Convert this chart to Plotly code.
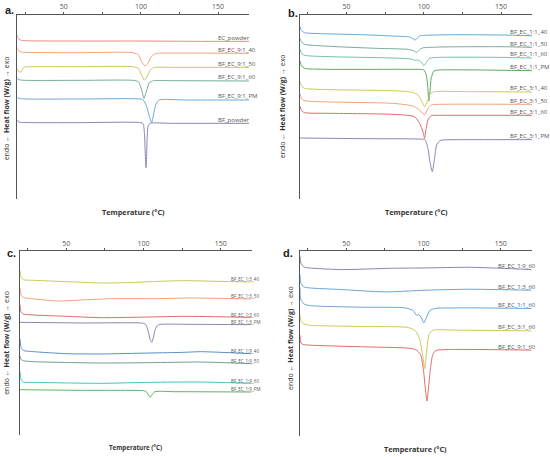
import plotly.graph_objects as go

# DSC thermograms, four panels (a-d). Temperature in degC, heat flow in arbitrary offset units (W/g)

# ---- panel a ----
a_names = ["EC_powder", "BF_EC_9:1_40", "BF_EC_9:1_50", "BF_EC_9:1_60", "BF_EC_9:1_PM", "BF_powder"]
a_temps = [
    [20, 20.5, 22, 25, 60, 100, 140, 170],
    [20, 20.5, 22, 25, 60, 95, 98.4, 100.5, 102.7, 104.8, 106.9, 110.2, 120, 170],
    [20, 21, 22.5, 24, 30, 60, 95, 98.4, 100.5, 102.3, 104.2, 106.3, 109, 120, 170],
    [20, 20.5, 22, 25, 60, 95, 98.4, 100.5, 102, 103.8, 105.5, 108.1, 120, 170],
    [20, 22, 60, 100, 101.6, 103.8, 105.5, 107, 108.1, 109.8, 111.9, 130, 170],
    [20, 20.5, 22, 60, 100, 101.5, 102.3, 102.9, 103.3, 103.7, 104, 104.6, 106, 120, 170],
]
a_flows = [
    [-1.05, -1.15, -1.20, -1.22, -1.23, -1.23, -1.24, -1.24],
    [-1.43, -1.50, -1.55, -1.57, -1.58, -1.58, -1.65, -1.85, -1.98, -1.88, -1.68, -1.60, -1.59, -1.60],
    [-2.05, -2.15, -2.16, -2.02, -2.00, -2.00, -2.00, -2.05, -2.25, -2.40, -2.28, -2.08, -2.02, -2.02, -2.02],
    [-2.32, -2.38, -2.40, -2.41, -2.41, -2.41, -2.45, -2.70, -2.95, -2.70, -2.48, -2.42, -2.42, -2.43],
    [-2.93, -2.96, -2.97, -2.97, -3.00, -3.20, -3.50, -3.68, -3.45, -3.12, -3.00, -3.00, -3.00],
    [-3.60, -3.65, -3.67, -3.68, -3.68, -3.72, -4.00, -4.70, -5.03, -4.70, -4.20, -3.80, -3.70, -3.70, -3.70],
]
a_colors = ["#ea8a84", "#f2a276", "#c9c95c", "#72ae96", "#6aa9dc", "#8a85b0"]

# ---- panel b ----
b_names = ["BF_EC_1:1_40", "BF_EC_1:1_50", "BF_EC_1:1_60", "BF_EC_1:1_PM",
           "BF_EC_3:1_40", "BF_EC_3:1_50", "BF_EC_3:1_60", "BF_EC_3:1_PM"]
b_temps = [
    [20, 21, 23, 35, 60, 80, 91, 94.5, 95.8, 97.3, 100, 120, 150, 170],
    [20, 21, 23, 40, 70, 90, 93.5, 95.4, 97, 99, 110, 150, 170],
    [20, 21, 23, 40, 80, 92, 94.5, 96.2, 98.4, 100.1, 101.6, 103.8, 110, 150, 170],
    [20, 21, 23, 40, 90, 100.1, 101.6, 102.5, 103.3, 104.1, 104.8, 106.6, 110, 170],
    [20, 21, 23, 40, 80, 93, 96.2, 98.4, 100.5, 102.7, 104.4, 107, 130, 170],
    [20, 21, 23, 40, 80, 93, 97.3, 100.5, 102.7, 104.8, 110, 170],
    [20, 21, 23, 40, 80, 94, 97.3, 99.5, 100.5, 101.6, 102.7, 104.8, 110, 170],
    [20, 60, 100, 101, 102.7, 104, 105.5, 107, 108.3, 110.2, 112.4, 130, 170],
]
b_flows = [
    [-0.80, -0.92, -0.98, -1.01, -1.04, -1.08, -1.11, -1.20, -1.14, -1.08, -1.06, -1.04, -1.05, -1.07],
    [-1.15, -1.26, -1.33, -1.39, -1.45, -1.48, -1.52, -1.57, -1.50, -1.44, -1.41, -1.40, -1.42],
    [-1.48, -1.60, -1.66, -1.70, -1.74, -1.77, -1.81, -1.80, -1.86, -1.97, -1.88, -1.75, -1.72, -1.72, -1.74],
    [-1.83, -1.98, -2.05, -2.08, -2.08, -2.10, -2.25, -2.55, -3.03, -2.70, -2.35, -2.13, -2.10, -2.12],
    [-2.45, -2.58, -2.65, -2.69, -2.72, -2.77, -2.85, -3.00, -3.20, -3.00, -2.80, -2.75, -2.75, -2.76],
    [-2.82, -2.96, -3.02, -3.06, -3.10, -3.18, -3.30, -3.45, -3.25, -3.15, -3.13, -3.13],
    [-3.18, -3.32, -3.38, -3.40, -3.43, -3.50, -3.70, -3.95, -4.15, -3.85, -3.60, -3.47, -3.46, -3.46],
    [-4.14, -4.16, -4.18, -4.20, -4.45, -4.85, -5.15, -4.75, -4.35, -4.23, -4.20, -4.19, -4.19],
]
b_colors = ["#62aadc", "#7aab9c", "#6cc4a6", "#5fa95f", "#c9c95c", "#f2a276", "#e06a6a", "#8a85b0"]

# ---- panel c ----
c_names = ["BF_EC_1:3_40", "BF_EC_1:3_50", "BF_EC_1:3_60", "BF_EC_1:3_PM",
           "BF_EC_1:9_40", "BF_EC_1:9_50", "BF_EC_1:9_60", "BF_EC_1:9_PM"]
c_temps = [
    [20, 20.5, 22, 29, 50, 72, 90, 104, 126, 147, 170],
    [20, 20.5, 22, 29, 45, 60, 80, 110, 130, 170],
    [20, 20.5, 22, 29, 50, 72, 104, 126, 170],
    [20, 60, 100, 101.5, 103, 104.3, 105.3, 106.3, 107.5, 109, 111, 130, 170],
    [20, 20.5, 22, 29, 50, 72, 104, 126, 137, 170],
    [20, 20.5, 22, 29, 72, 104, 137, 170],
    [20, 20.5, 22, 29, 72, 104, 137, 170],
    [20, 60, 100, 101.5, 103, 104.2, 105.5, 107.3, 120, 170],
]
c_flows = [
    [-1.28, -1.45, -1.55, -1.57, -1.61, -1.65, -1.64, -1.61, -1.58, -1.60, -1.62],
    [-1.80, -2.00, -2.08, -2.13, -2.19, -2.16, -2.12, -2.12, -2.10, -2.13],
    [-2.30, -2.50, -2.58, -2.61, -2.65, -2.69, -2.67, -2.65, -2.68],
    [-2.83, -2.85, -2.86, -2.90, -3.10, -3.35, -3.43, -3.30, -3.05, -2.92, -2.89, -2.89, -2.90],
    [-3.33, -3.55, -3.67, -3.71, -3.77, -3.78, -3.75, -3.73, -3.71, -3.77],
    [-3.83, -3.93, -3.98, -4.01, -4.05, -4.04, -4.02, -4.07],
    [-4.30, -4.52, -4.62, -4.63, -4.66, -4.63, -4.62, -4.66],
    [-4.85, -4.87, -4.88, -4.90, -5.00, -5.08, -5.00, -4.91, -4.91, -4.92],
]
c_colors = ["#c9c95c", "#f2a276", "#e06a6a", "#8a85b0", "#5b8ec8", "#6f9f93", "#45c2c2", "#5fb35f"]

# ---- panel d ----
d_names = ["BF_EC_1:9_60", "BF_EC_1:3_60", "BF_EC_1:1_60", "BF_EC_3:1_60", "BF_EC_9:1_60"]
d_temps = [
    [20, 20.5, 22.5, 26, 47, 79, 101, 129, 150, 170],
    [20, 20.5, 22.5, 26, 47, 75, 101, 129, 170],
    [20, 20.5, 22.5, 26, 60, 88, 93.3, 95.4, 96.9, 98.6, 100.1, 101.8, 104, 107.2, 130, 170],
    [20, 20.5, 22.5, 26, 60, 90, 95, 97.5, 99.5, 100.7, 101.8, 103.5, 106, 120, 170],
    [20, 20.5, 22, 26, 60, 90, 95, 98, 100, 101.3, 102.2, 103.2, 104.5, 106, 108, 120, 170],
]
d_flows = [
    [-0.85, -1.05, -1.17, -1.20, -1.25, -1.21, -1.20, -1.18, -1.21, -1.25],
    [-1.40, -1.65, -1.77, -1.80, -1.85, -1.92, -1.87, -1.84, -1.87],
    [-1.80, -2.15, -2.28, -2.33, -2.38, -2.40, -2.48, -2.62, -2.60, -2.70, -2.85, -2.70, -2.48, -2.42, -2.40, -2.42],
    [-2.62, -2.80, -2.88, -2.92, -2.96, -2.99, -3.10, -3.35, -3.85, -4.23, -3.80, -3.20, -3.07, -3.07, -3.09],
    [-3.22, -3.45, -3.50, -3.52, -3.57, -3.61, -3.66, -3.80, -4.30, -4.90, -5.20, -4.80, -4.20, -3.80, -3.68, -3.65, -3.67],
]
d_colors = ["#8a85b0", "#6aa5d8", "#6aa5d8", "#c9c95c", "#e06a6a"]

tick_vals = [25, 50, 75, 100, 125, 150]
tick_text = ["", "50", "", "100", "", "150"]

panels = [
    # letter, names, temps, flows, colors, x domain, y domain, y range, label temp, label size,
    # xtitle size, letter pos, y-title pos
    ("a.", a_names, a_temps, a_flows, a_colors, [0.0315, 0.4527], [0.5639, 0.9678], [-5.98, -0.44], 148.5, 6, 7.3,
     (0.0164, 0.979), (0.011, 0.763)),
    ("b.", b_names, b_temps, b_flows, b_colors, [0.5455, 0.9673], [0.5639, 0.9678], [-5.98, -0.44], 154.3, 6, 7.3,
     (0.533, 0.972), (0.513, 0.768)),
    ("c.", c_names, c_temps, c_flows, c_colors, [0.0364, 0.4576], [0.0488, 0.4501], [-6.20, -0.70], 155.4, 4.5, 6.2,
     (0.020, 0.446), (0.012, 0.249)),
    ("d.", d_names, d_temps, d_flows, d_colors, [0.5455, 0.9667], [0.0460, 0.4501], [-6.25, -0.70], 146.8, 6, 7.3,
     (0.524, 0.446), (0.527, 0.260)),
]

fig = go.Figure()
annotations = []
txt = "#555555"

for i, (letter, names, temps, flows, colors, xd, yd, yr, lab_t, lab_size, xt_size, let_pos, yt_pos) in enumerate(panels):
    n = "" if i == 0 else str(i + 1)
    for name, t, f, col in zip(names, temps, flows, colors):
        fig.add_trace(go.Scatter(
            x=t, y=f, mode="lines", name=name,
            line=dict(color=col, width=1, shape="spline", smoothing=0.6),
            xaxis="x" + n, yaxis="y" + n, showlegend=False, hoverinfo="skip",
        ))
        annotations.append(dict(
            x=lab_t, y=f[-1], xref="x" + n, yref="y" + n, text=name,
            showarrow=False, xanchor="left", yanchor="middle", yshift=lab_size * 0.6,
            font=dict(family="Open Sans", size=lab_size, color=txt),
        ))
    fig.layout["xaxis" + n] = dict(
        domain=xd, range=[20, 170], side="top", anchor="y" + n,
        showline=True, linecolor="#555555", linewidth=1, showgrid=False, zeroline=False,
        tickvals=tick_vals, ticktext=tick_text, ticks="outside", ticklen=2,
        tickcolor="#555555", tickfont=dict(family="Open Sans", size=7, color=txt),
    )
    fig.layout["yaxis" + n] = dict(
        domain=yd, range=yr, anchor="x" + n,
        showline=True, linecolor="#555555", linewidth=1, showgrid=False, zeroline=False,
        showticklabels=False, ticks="",
    )

    # panel letter, axis titles
    xmid = (xd[0] + xd[1]) / 2
    annotations.append(dict(
        x=let_pos[0], y=let_pos[1], xref="paper", yref="paper", text="<b>" + letter + "</b>",
        showarrow=False, xanchor="center", yanchor="middle",
        font=dict(family="Liberation Sans", size=11, color="#222222"),
    ))
    annotations.append(dict(
        x=xmid, y=yd[0] - 0.028, xref="paper", yref="paper", text="<b>Temperature (°C)</b>",
        showarrow=False, xanchor="center", yanchor="middle",
        font=dict(family="Open Sans", size=xt_size, color="#333333"),
    ))
    annotations.append(dict(
        x=yt_pos[0], y=yt_pos[1], xref="paper", yref="paper",
        text="endo ← <b>Heat flow (W/g)</b> → exo", textangle=-90,
        showarrow=False, xanchor="center", yanchor="middle",
        font=dict(family="Open Sans", size=7, color="#333333"),
    ))

fig.update_layout(
    width=550, height=457,
    margin=dict(l=0, r=0, t=0, b=0),
    paper_bgcolor="white", plot_bgcolor="white",
    annotations=annotations,
)

fig.write_html("out.html", config={"displayModeBar": False},
               post_script="document.body.style.margin = '0';")
